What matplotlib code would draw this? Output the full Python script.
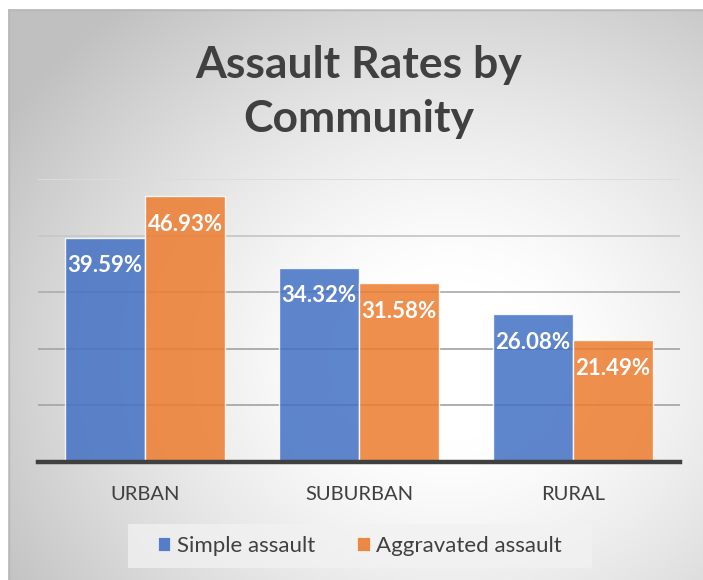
import numpy as np
import matplotlib
matplotlib.use("Agg")
import matplotlib.pyplot as plt
from matplotlib.patches import Patch, Rectangle

categories = ["URBAN", "SUBURBAN", "RURAL"]
series_names = ["Simple assault", "Aggravated assault"]
simple_assault = [39.59, 34.32, 26.08]
aggravated_assault = [46.93, 31.58, 21.49]
title = "Assault Rates by\nCommunity"

W, H = 703, 580
plt.rcParams['font.family'] = ['Lato', 'DejaVu Sans']
fig = plt.figure(figsize=(W / 100, H / 100), dpi=100)

# background radial gradient
bg = fig.add_axes([0, 0, 1, 1])
yy, xx = np.mgrid[0:H, 0:W]
cx, cy = 450, 360
d = np.sqrt(((xx - cx) / 460.0) ** 2 + ((yy - cy) / 400.0) ** 2)
t = np.clip((d - 0.2) / 0.85, 0, 1.1)
v = 255 - 55 * t ** 1.3
img = np.dstack([v, v, v]) / 255.0
img[:, :8, :] = 1.0
img[:9, :, :] = 1.0
bg.imshow(img, extent=[0, W, H, 0], aspect='auto', interpolation='bilinear')
bg.plot([8.5, 8.5], [9.5, H], color='#b8b8b8', lw=1)
bg.plot([8.5, W], [9.5, 9.5], color='#b8b8b8', lw=1)
bg.add_patch(Rectangle((128, 524), 464, 44, facecolor='#f2f2f2', alpha=0.75, edgecolor='none'))
bg.set_xlim(0, W)
bg.set_ylim(H, 0)
bg.axis('off')

# plot area
left, right, top, bottom = 38, 680, 179, 462
ax = fig.add_axes([left / W, 1 - bottom / H, (right - left) / W, (bottom - top) / H])
ax.patch.set_alpha(0)
ax.set_xlim(-0.5, 2.5)
ax.set_ylim(0, 50)

grid_colors = {10: '#a8a8a8', 20: '#a8a8a8', 30: '#b0b0b0', 40: '#c8c8c8', 50: '#dcdcdc'}
for gv, gc in grid_colors.items():
    ax.axhline(gv, color=gc, lw=1.3, zorder=1)

x = np.arange(len(categories))
bw = 0.374
colors = ['#4472C4', '#ED7D31']
for i, (vals, col) in enumerate(zip([simple_assault, aggravated_assault], colors)):
    xs = x + (i - 0.5) * bw
    ax.bar(xs, vals, width=bw, color=col, alpha=0.86,
           edgecolor=(1, 1, 1, 0.6), linewidth=1.0, zorder=2)
    for xi, val in zip(xs, vals):
        ax.annotate(f"{val:.2f}%", (xi, val), xytext=(0, -28), textcoords='offset pixels',
                    ha='center', va='center', color='white', fontsize=16,
                    fontweight='bold', zorder=3)

ax.axhline(0, color='#404040', lw=3.2, zorder=4, clip_on=False)
for s in ax.spines.values():
    s.set_visible(False)
ax.set_yticks([])
ax.set_xticks(x)
ax.set_xticklabels(categories, fontsize=14.5, color='#404040')
ax.tick_params(axis='x', length=0, pad=17)

fig.text(359 / W, 1 - 92 / H, title, ha='center', va='center', fontsize=32,
         fontweight='bold', color='#404040', linespacing=1.4)

handles = [Patch(facecolor=c, alpha=0.9, edgecolor='white', linewidth=0.5) for c in colors]
leg = fig.legend(handles, series_names, loc='center', bbox_to_anchor=(360 / W, 1 - 546 / H),
                 ncol=2, fontsize=16, frameon=False,
                 handlelength=0.55, handleheight=0.55, handletextpad=0.3,
                 columnspacing=1.9, borderpad=0.3)
for t_ in leg.get_texts():
    t_.set_color('#404040')

fig.savefig('out.png', dpi=100)
